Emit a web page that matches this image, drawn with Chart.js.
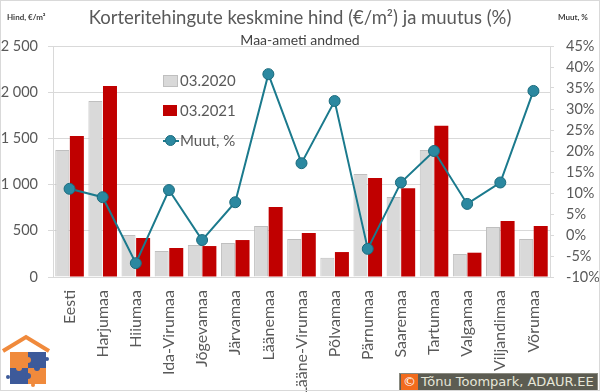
<!DOCTYPE html>
<html>
<head>
<meta charset="utf-8">
<script src="https://cdn.jsdelivr.net/npm/chart.js@4.4.1/dist/chart.umd.min.js"></script>
<style>
  html, body { margin: 0; padding: 0; background: #fff; }
  #wrap {
    position: relative;
    width: 600px;
    height: 392px;
    overflow: hidden;
    font-family: Lato, "Open Sans", sans-serif;
    color: #595959;
  }
  #frame {
    position: absolute;
    left: 0; top: 0;
    width: 598px; height: 389px;
    border: 1px solid #d9d9d9;
    pointer-events: none;
  }
  canvas { position: absolute; left: 0; top: 0; }
  .title {
    position: absolute;
    left: 0; width: 600px; top: 6px;
    text-align: center;
    font-size: 18.5px;
    color: #595959;
  }
  .subtitle {
    position: absolute;
    left: 0; width: 600px; top: 31px;
    text-align: center;
    font-size: 14px;
    color: #404040;
  }
  .axisTitle {
    position: absolute;
    top: 12px;
    font-size: 8px;
    font-weight: bold;
    color: #404040;
  }
  .legend {
    position: absolute;
    left: 163px; top: 70px;
    font-size: 15px;
    color: #595959;
  }
  .legend .row { position: relative; height: 30px; }
  .legend .box {
    position: absolute; left: 0; top: 5px;
    width: 14px; height: 11px;
  }
  .legend .txt { position: absolute; left: 17px; top: 1px; white-space: nowrap; }
  .copy {
    position: absolute;
    left: 399px; top: 373px;
    width: 197px; height: 16px;
    background: #5c5c52;
    border: 1px solid #8a8a80;
    font-family: "DejaVu Sans", sans-serif;
    font-size: 13px;
    color: #e6e6d8;
    white-space: nowrap;
  }
  .copy .c {
    position: absolute; left: 1px; top: 0px;
    width: 17px; height: 16px;
    background: #f26b1d;
    color: #fff;
    text-align: center;
    line-height: 16px;
  }
  .copy .t { position: absolute; left: 21px; top: 0px; line-height: 16px; }
</style>
</head>
<body>
<div id="wrap">
  <canvas id="priceChart" width="600" height="392"></canvas>

  <div class="title">Korteritehingute keskmine hind (€/m²) ja muutus (%)</div>
  <div class="subtitle">Maa-ameti andmed</div>
  <div class="axisTitle" style="left:7px;">Hind, €/m²</div>
  <div class="axisTitle" style="left:558px;">Muut, %</div>

  <div class="legend">
    <div class="row">
      <div class="box" style="background:#d9d9d9;border:1px solid #bfbfbf;width:13px;height:10px;"></div>
      <div class="txt">03.2020</div>
    </div>
    <div class="row">
      <div class="box" style="background:#c00000;"></div>
      <div class="txt">03.2021</div>
    </div>
    <div class="row">
      <div style="position:absolute;left:0;top:10px;width:16px;height:2px;background:#1b7a8d;"></div>
      <div style="position:absolute;left:2px;top:5px;width:9px;height:9px;border-radius:50%;background:#2b88a0;border:1px solid #1b6b7d;"></div>
      <div class="txt">Muut, %</div>
    </div>
  </div>

  <!-- LOGO -->
  <svg style="position:absolute;left:0;top:330px;" width="54" height="58">
    <polyline points="3,21 26,7 49,21" fill="none" stroke="#f08a3c" stroke-width="4"/>
    <rect x="10" y="22" width="18" height="16" fill="#f08a3c"/>
    <rect x="28" y="22" width="18" height="16" fill="#3d5a9a"/>
    <rect x="10" y="38" width="18" height="16" fill="#3d5a9a"/>
    <rect x="28" y="38" width="18" height="16" fill="#f08a3c"/>
    <circle cx="28" cy="30" r="3" fill="#f08a3c"/>
    <circle cx="19" cy="38" r="3" fill="#f08a3c"/>
    <circle cx="37" cy="38" r="3" fill="#3d5a9a"/>
    <circle cx="28" cy="46" r="3" fill="#3d5a9a"/>
    <circle cx="8" cy="47" r="2" fill="#3d5a9a"/>
    <circle cx="47" cy="29" r="2" fill="#3d5a9a"/>
    <circle cx="33" cy="55" r="2" fill="#f08a3c"/>
  </svg>

  <div class="copy"><div class="c">©</div><div class="t">Tõnu Toompark, ADAUR.EE</div></div>
  <div id="frame"></div>
</div>

<script>
// DATA
const counties = [
  "Eesti", "Harjumaa", "Hiiumaa", "Ida-Virumaa", "Jõgevamaa",
  "Järvamaa", "Läänemaa", "Lääne-Virumaa", "Põlvamaa", "Pärnumaa",
  "Saaremaa", "Tartumaa", "Valgamaa", "Viljandimaa", "Võrumaa"
];

const price2020 = [
  1375, 1905, 455, 281, 346,
  368, 552, 411, 209, 1115,
  866, 1374, 249, 541, 411
];

const price2021 = [
  1526, 2067, 422, 314, 335,
  400, 757, 476, 270, 1071,
  960, 1638, 263, 606, 552
];

const changePct = [
  11.0, 9.0, -6.7, 10.7, -1.2,
  7.8, 38.3, 17.1, 31.9, -3.3,
  12.5, 20.0, 7.4, 12.5, 34.3
];

const labelColor = "#595959";
const gridColor = "#d9d9d9";

function spaceThousands(v) {
  return String(v).replace(/\B(?=(\d{3})+(?!\d))/g, " ");
}

// keep plot area at fixed pixels
function fixedWidth(w) {
  return scale => {
    scale.width = w;
    scale.paddingTop = 0;
    scale.paddingBottom = 0;
  };
}

new Chart(document.getElementById("priceChart"), {

  type: "bar",

  data: {

    labels: counties,

    datasets: [
      {
        type: "line",
        label: "Muut, %",
        data: changePct,
        yAxisID: "y1",
        borderColor: "#1b7a8d",
        borderWidth: 2,
        backgroundColor: "#2b88a0",
        pointBackgroundColor: "#2b88a0",
        pointBorderColor: "#1b6b7d",
        pointBorderWidth: 1,
        pointRadius: 5.5,
        tension: 0,
        order: 0
      },
      {
        label: "03.2020",
        data: price2020,
        yAxisID: "y",
        backgroundColor: "#d9d9d9",
        borderColor: "#bfbfbf",
        borderWidth: { top: 1, left: 1, right: 1, bottom: 0 },
        categoryPercentage: 0.88,
        barPercentage: 0.96,
        order: 1
      },
      {
        label: "03.2021",
        data: price2021,
        yAxisID: "y",
        backgroundColor: "#c00000",
        borderWidth: 0,
        categoryPercentage: 0.88,
        barPercentage: 0.96,
        order: 1
      }
    ]
  },

  options: {

    responsive: false,
    animation: false,

    layout: {
      padding: { top: 46, left: 0, right: 0, bottom: 0 }
    },

    plugins: {
      legend: { display: false },
      tooltip: { enabled: false }
    },

    scales: {

      x: {
        grid: { display: false },
        border: { color: gridColor },
        ticks: {
          color: labelColor,
          font: { family: "Lato", size: 16 },
          minRotation: 90,
          maxRotation: 90,
          autoSkip: false,
          padding: 5
        },
        afterFit: scale => {
          scale.height = 115;
          scale.paddingLeft = 0;
          scale.paddingRight = 0;
        }
      },

      y: {
        position: "left",
        min: 0,
        max: 2500,
        grid: { color: gridColor, tickLength: 5 },
        border: { color: gridColor },
        ticks: {
          stepSize: 500,
          color: labelColor,
          font: { family: "Lato", size: 14.5 },
          padding: 10,
          callback: v => spaceThousands(v)
        },
        afterFit: fixedWidth(53)
      },

      y1: {
        position: "right",
        min: -10,
        max: 45,
        grid: { drawOnChartArea: false, color: gridColor, tickLength: 4 },
        border: { color: gridColor },
        ticks: {
          stepSize: 5,
          color: labelColor,
          font: { family: "Lato", size: 14.5 },
          padding: 12,
          callback: v => v + "%"
        },
        afterFit: fixedWidth(50)
      }
    }
  }
});
</script>
</body>
</html>
